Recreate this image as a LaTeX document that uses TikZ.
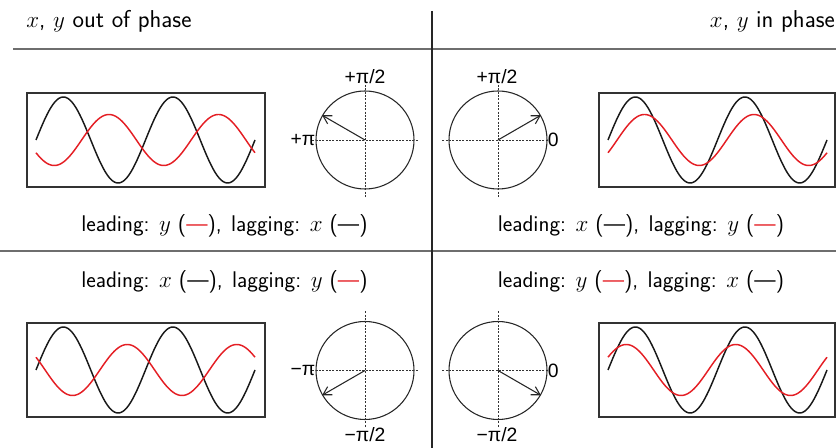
\documentclass[tikz,border=0pt]{standalone}
\usepackage{fontspec}
\usetikzlibrary{arrows.meta,calc}
\newfontfamily\labfont{Liberation Sans}
\definecolor{myred}{RGB}{228,30,36}
\definecolor{rulegray}{RGB}{110,110,110}
\newcommand{\blk}{(---)}
\newcommand{\rd}{(\textcolor{myred}{---})}
\begin{document}
\begin{tikzpicture}[x=0.75pt,y=-0.75pt,
  wavebox/.style={draw=black!80,line width=1.1pt,inner sep=0pt},
  phasor/.style={draw=black!85,line width=0.8pt,circle,minimum size=73.5pt,inner sep=0pt},
  axisline/.style={black!80,line width=0.6pt,dash pattern=on 1.5pt off 1pt},
  vec/.style={black!85,line width=0.8pt,-{Straight Barb[length=6pt,width=7pt]}},
  bwave/.style={black!90,line width=1.1pt},
  rwave/.style={myred,line width=1.1pt},
  txt/.style={font=\sffamily\fontsize{17}{20}\selectfont,inner sep=0pt},
  htxt/.style={font=\sffamily\fontsize{18.3}{21}\selectfont,inner sep=0pt},
  lab/.style={font=\labfont\fontsize{14.5}{16}\selectfont,inner sep=0pt},
  rulegrey/.style={rulegray,line width=1.6pt}]
\useasboundingbox (0,0) rectangle (836,448);

% rules
\coordinate (hl1) at (13,49);
\coordinate (hr1) at (836,49);
\coordinate (hl2) at (0,251);
\coordinate (hr2) at (836,251);
\coordinate (vt) at (432,11);
\coordinate (vb) at (432,448);
\draw[rulegrey] (hl1) -- (hr1);
\draw[rulegrey] (hl2) -- (hr2);
\draw[black!85,line width=1pt] (vt) -- (vb);

% headers
\node[htxt,anchor=base west] (hL) at (26,28) {$x$, $y$ out of phase};
\node[htxt,anchor=base east] (hR) at (835,28) {$x$, $y$ in phase};

% captions
\node[txt,anchor=base west] (cap1) at (81,231.5) {leading: $y$ \rd,\hspace{0.1em} lagging: $x$ \blk};
\node[txt,anchor=base west] (cap2) at (81,288) {leading: $x$ \blk,\hspace{0.1em} lagging: $y$ \rd};
\node[txt,anchor=base west] (cap3) at (497.5,231.5) {leading: $x$ \blk,\hspace{0.1em} lagging: $y$ \rd};
\node[txt,anchor=base west] (cap4) at (497.5,288) {leading: $y$ \rd,\hspace{0.1em} lagging: $x$ \blk};

% wave boxes
\node[wavebox,minimum width=178.5pt,minimum height=70.5pt] (bTL) at (146,140) {};
\node[wavebox,minimum width=177pt,minimum height=70.5pt] (bTR) at (717,140) {};
\node[wavebox,minimum width=178.5pt,minimum height=70.5pt] (bBL) at (146,370) {};
\node[wavebox,minimum width=177pt,minimum height=70.5pt] (bBR) at (717,370) {};

% waves: top-left (phase 150)
\draw[bwave] plot[domain=0:720,samples=160,smooth] ({36+\x/360*109.5},{140-43*sin(\x)});
\draw[rwave] plot[domain=0:720,samples=160,smooth] ({36+\x/360*109.5},{140-25.5*sin(\x-150)});
% top-right (phase 30)
\draw[bwave] plot[domain=0:720,samples=160,smooth] ({608+\x/360*109.5},{140-43*sin(\x)});
\draw[rwave] plot[domain=0:720,samples=160,smooth] ({608+\x/360*109.5},{140-25.5*sin(\x-30)});
% bottom-left (phase -150)
\draw[bwave] plot[domain=0:720,samples=160,smooth] ({36+\x/360*109.5},{370-43*sin(\x)});
\draw[rwave] plot[domain=0:720,samples=160,smooth] ({36+\x/360*109.5},{370-25.5*sin(\x+150)});
% bottom-right (phase -30)
\draw[bwave] plot[domain=0:720,samples=160,smooth] ({608+\x/360*109.5},{370-43*sin(\x)});
\draw[rwave] plot[domain=0:720,samples=160,smooth] ({608+\x/360*109.5},{370-25.5*sin(\x+30)});

% phasor circles
\node[phasor] (cTL) at (365,140) {};
\node[phasor] (cTR) at (498,140) {};
\node[phasor] (cBL) at (365,370.5) {};
\node[phasor] (cBR) at (498,370.5) {};

% axes
\draw[axisline] ($(cTL.west)+(-3,0)$) -- ($(cTL.east)+(3,0)$);
\draw[axisline] ($(cTL.center)+(0,-55)$) -- ($(cTL.center)+(0,58)$);
\draw[axisline] ($(cTR.west)+(-6,0)$) -- (cTR.east);
\draw[axisline] ($(cTR.center)+(0,-55)$) -- ($(cTR.center)+(0,58)$);
\draw[axisline] ($(cBL.west)+(-3,0)$) -- ($(cBL.east)+(3,0)$);
\draw[axisline] ($(cBL.center)+(0,-59)$) -- ($(cBL.center)+(0,57)$);
\draw[axisline] ($(cBR.west)+(-6,0)$) -- (cBR.east);
\draw[axisline] ($(cBR.center)+(0,-59)$) -- ($(cBR.center)+(0,57)$);

% vectors
\draw[vec] (cTL.center) -- (cTL.150);
\draw[vec] (cTR.center) -- (cTR.30);
\draw[vec] (cBL.center) -- (cBL.-150);
\draw[vec] (cBR.center) -- (cBR.-30);

% labels
\node[lab,anchor=base] (lTL1) at (365,84) {+π/2};
\node[lab,anchor=east] (lTL2) at (cTL.west) {+π};
\node[lab,anchor=base] (lTR1) at (497,84) {+π/2};
\node[lab,anchor=west] (lTR2) at (cTR.east) {0};
\node[lab,anchor=east] (lBL2) at (cBL.west) {−π};
\node[lab,anchor=base] (lBL1) at (365,441.5) {−π/2};
\node[lab,anchor=west] (lBR2) at (cBR.east) {0};
\node[lab,anchor=base] (lBR1) at (497,441.5) {−π/2};
\end{tikzpicture}
\end{document}
